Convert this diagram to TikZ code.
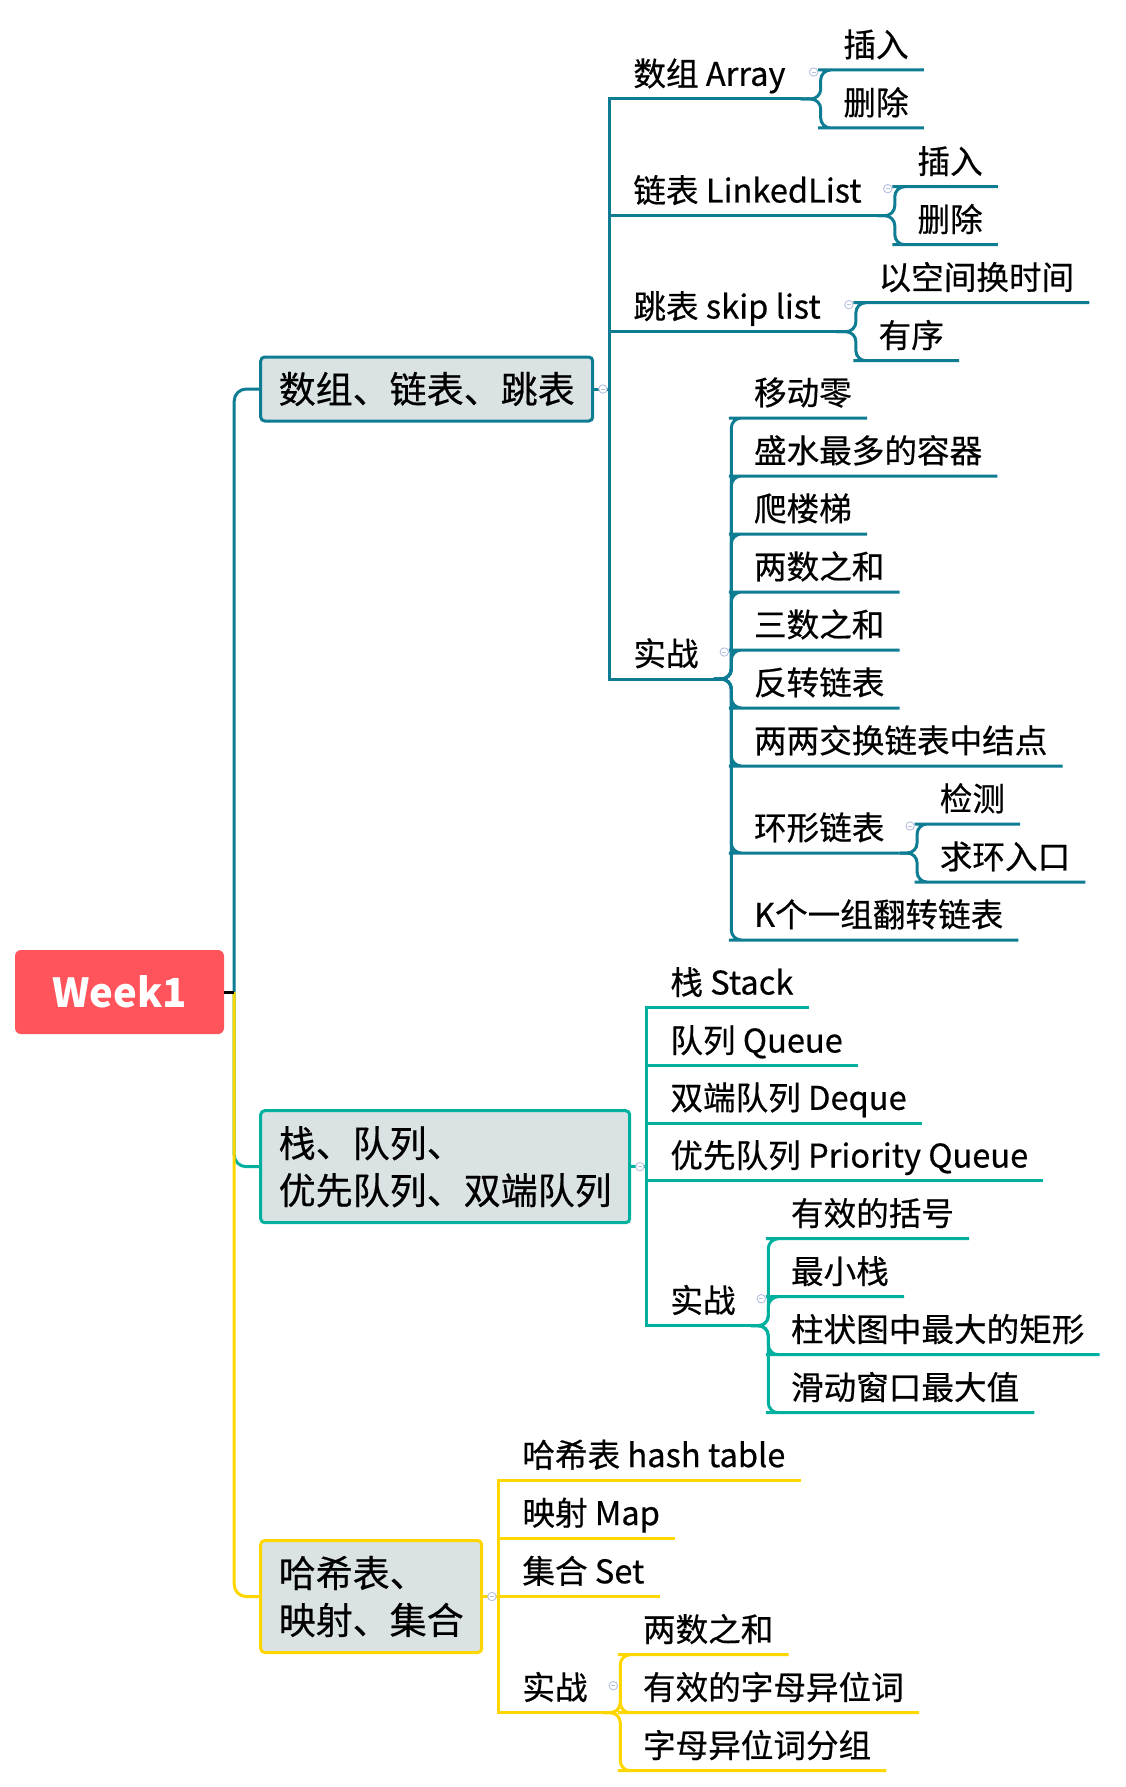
\documentclass[tikz,border=0pt]{standalone}
\usepackage{fontspec}
\setmainfont{Noto Sans CJK SC}[UprightFeatures={FakeBold=0.5}]
\usepackage{tikz}
\usetikzlibrary{calc}
\definecolor{C0}{RGB}{255, 84, 91}
\definecolor{C1}{RGB}{ 14,124,147}
\definecolor{C2}{RGB}{  0,176,158}
\definecolor{C3}{RGB}{255,214,  0}
\definecolor{Cbox}{RGB}{218,226,228}
\definecolor{Cfold}{RGB}{180,192,224}

\begin{document}
\begin{tikzpicture}[x=1pt, y=-1pt,
    rootbox/.style={fill=C0, rounded corners=6pt, minimum width=209pt, minimum height=84pt,
        text=white, font=\fontsize{40}{48}\selectfont\bfseries},
    topicbox/.style={anchor=west, fill=Cbox, rounded corners=4pt, line width=3pt,
        inner xsep=18pt, align=left, font=\fontsize{37}{47}\selectfont},
    leaf/.style={anchor=south west, inner xsep=15pt, inner ysep=0pt,
        text height=26pt, text depth=13pt, font=\fontsize{32.6}{40}\selectfont},
    branch/.style={line width=3pt},
    brace/.style={line width=3pt, rounded corners=10pt},
    foldmark/.style={draw=Cfold, fill=white, line width=0.9pt}]
    \useasboundingbox (0,0) rectangle (1125,1787);
    %% root
    \node[rootbox] (root) at (119.5,992) {Week1};
    \coordinate (rt) at ($(root.east)+(10,0)$);
    %% main topics
    \node[topicbox, draw=C1, minimum height=64pt] (box1) at (259.2,389) {数组、链表、跳表};
    \node[topicbox, draw=C2, minimum height=112pt] (box2) at (259.2,1166.7) {栈、队列、\\优先队列、双端队列};
    \node[topicbox, draw=C3, minimum height=112pt] (box3) at (259.2,1596.5) {哈希表、\\映射、集合};
    \draw[branch, C1, rounded corners=12pt] (rt) |- (box1.west);
    \draw[branch, C2, rounded corners=12pt] (rt) |- (box2.west);
    \draw[branch, C3, rounded corners=12pt] (rt) |- (box3.west);
    \draw[branch, black] (root.east) -- (rt);
    %% branch 1: arrays, lists
    \coordinate (t1) at ($(box1.east)+(15.5,0)$);
    \node[leaf] (arr) at ($(t1)+(8.5,-290)$) {数组 Array};
    \node[leaf] (lnk) at ($(t1)+(8.5,-173.3)$) {链表 LinkedList};
    \node[leaf] (skp) at ($(t1)+(8.5,-57.3)$) {跳表 skip list};
    \node[leaf] (pr1) at ($(t1)+(8.5,290)$) {实战};
    \foreach \n in {arr, lnk, skp, pr1}
        \draw[branch, C1] (box1.east) -- (t1) |- (\n.south west) -- (\n.south east);
    \coordinate (j1) at ($(arr.south east)+(20,0)$);
    \coordinate (j2) at ($(lnk.south east)+(18,0)$);
    \coordinate (j3) at ($(skp.south east)+(20,0)$);
    \coordinate (j4) at ($(pr1.south east)+(17.5,0)$);
    \node[leaf] (arr1) at ($(j1)+(7.5,-29)$) {插入};
    \node[leaf] (arr2) at ($(j1)+(7.5,29)$) {删除};
    \node[leaf] (lnk1) at ($(j2)+(7.5,-29)$) {插入};
    \node[leaf] (lnk2) at ($(j2)+(7.5,29)$) {删除};
    \node[leaf] (skp1) at ($(j3)+(7.5,-29)$) {以空间换时间};
    \node[leaf] (skp2) at ($(j3)+(7.5,29)$) {有序};
    \foreach \dy/\txt [count=\i] in {-261/移动零, -203/盛水最多的容器, -145/爬楼梯, -87/两数之和,
        -29/三数之和, 29/反转链表, 87/两两交换链表中结点, 174/环形链表, 261/K个一组翻转链表}
        \node[leaf] (pr1\i) at ($(j4)+(7.5,\dy)$) {\txt};
    \coordinate (j5) at ($(pr18.south east)+(17.5,0)$);
    \node[leaf] (cyc1) at ($(j5)+(7.5,-29)$) {检测};
    \node[leaf] (cyc2) at ($(j5)+(7.5,29)$) {求环入口};
    \foreach \p/\j/\n in {arr/j1/arr1, arr/j1/arr2, lnk/j2/lnk1, lnk/j2/lnk2, skp/j3/skp1, skp/j3/skp2,
        pr18/j5/cyc1, pr18/j5/cyc2}
        \draw[brace, C1] (\p.south east) -- (\j) |- (\n.south west) -- (\n.south east);
    \foreach \i in {1,...,9}
        \draw[brace, C1] (pr1.south east) -- (j4) |- (pr1\i.south west) -- (pr1\i.south east);
    %% branch 2: stacks, queues
    \coordinate (t2) at ($(box2.east)+(15.5,0)$);
    \node[leaf] (stk) at ($(t2)+(8.5,-159)$) {栈 Stack};
    \node[leaf] (que) at ($(t2)+(8.5,-101)$) {队列 Queue};
    \node[leaf] (deq) at ($(t2)+(8.5,-43.7)$) {双端队列 Deque};
    \node[leaf] (pq) at ($(t2)+(8.5,14)$) {优先队列 Priority Queue};
    \node[leaf] (pr2) at ($(t2)+(8.5,159)$) {实战};
    \foreach \n in {stk, que, deq, pq, pr2}
        \draw[branch, C2] (box2.east) -- (t2) |- (\n.south west) -- (\n.south east);
    \coordinate (j6) at ($(pr2.south east)+(17.5,0)$);
    \foreach \dy/\txt [count=\i] in {-87/有效的括号, -29/最小栈, 29/柱状图中最大的矩形, 87/滑动窗口最大值}
        \node[leaf] (pr2\i) at ($(j6)+(7.5,\dy)$) {\txt};
    \foreach \i in {1,...,4}
        \draw[brace, C2] (pr2.south east) -- (j6) |- (pr2\i.south west) -- (pr2\i.south east);
    %% branch 3: hashing
    \coordinate (t3) at ($(box3.east)+(15.5,0)$);
    \node[leaf] (hsh) at ($(t3)+(8.5,-116.2)$) {哈希表 hash table};
    \node[leaf] (map) at ($(t3)+(8.5,-58.2)$) {映射 Map};
    \node[leaf] (set) at ($(t3)+(8.5,0)$) {集合 Set};
    \node[leaf] (pr3) at ($(t3)+(8.5,116.2)$) {实战};
    \foreach \n in {hsh, map, set, pr3}
        \draw[branch, C3] (box3.east) -- (t3) |- (\n.south west) -- (\n.south east);
    \coordinate (j7) at ($(pr3.south east)+(17.5,0)$);
    \foreach \dy/\txt [count=\i] in {-58/两数之和, 0/有效的字母异位词, 58/字母异位词分组}
        \node[leaf] (pr3\i) at ($(j7)+(7.5,\dy)$) {\txt};
    \foreach \i in {1,...,3}
        \draw[brace, C3] (pr3.south east) -- (j7) |- (pr3\i.south west) -- (pr3\i.south east);
    %% fold marks
    \foreach \b in {box1, box2, box3} {
        \draw[foldmark] ($(\b.east)+(8.7,0)$) circle (4.2pt);
        \draw[Cfold, line width=0.9pt] ($(\b.east)+(6.7,0)$) -- ++(4,0);
    }
    \foreach \j in {j1, j2, j3, j4, j5, j6, j7} {
        \draw[foldmark] ($(\j)+(-7,-27)$) circle (4.2pt);
        \draw[Cfold, line width=0.9pt] ($(\j)+(-9,-27)$) -- ++(4,0);
    }
\end{tikzpicture}
\end{document}
